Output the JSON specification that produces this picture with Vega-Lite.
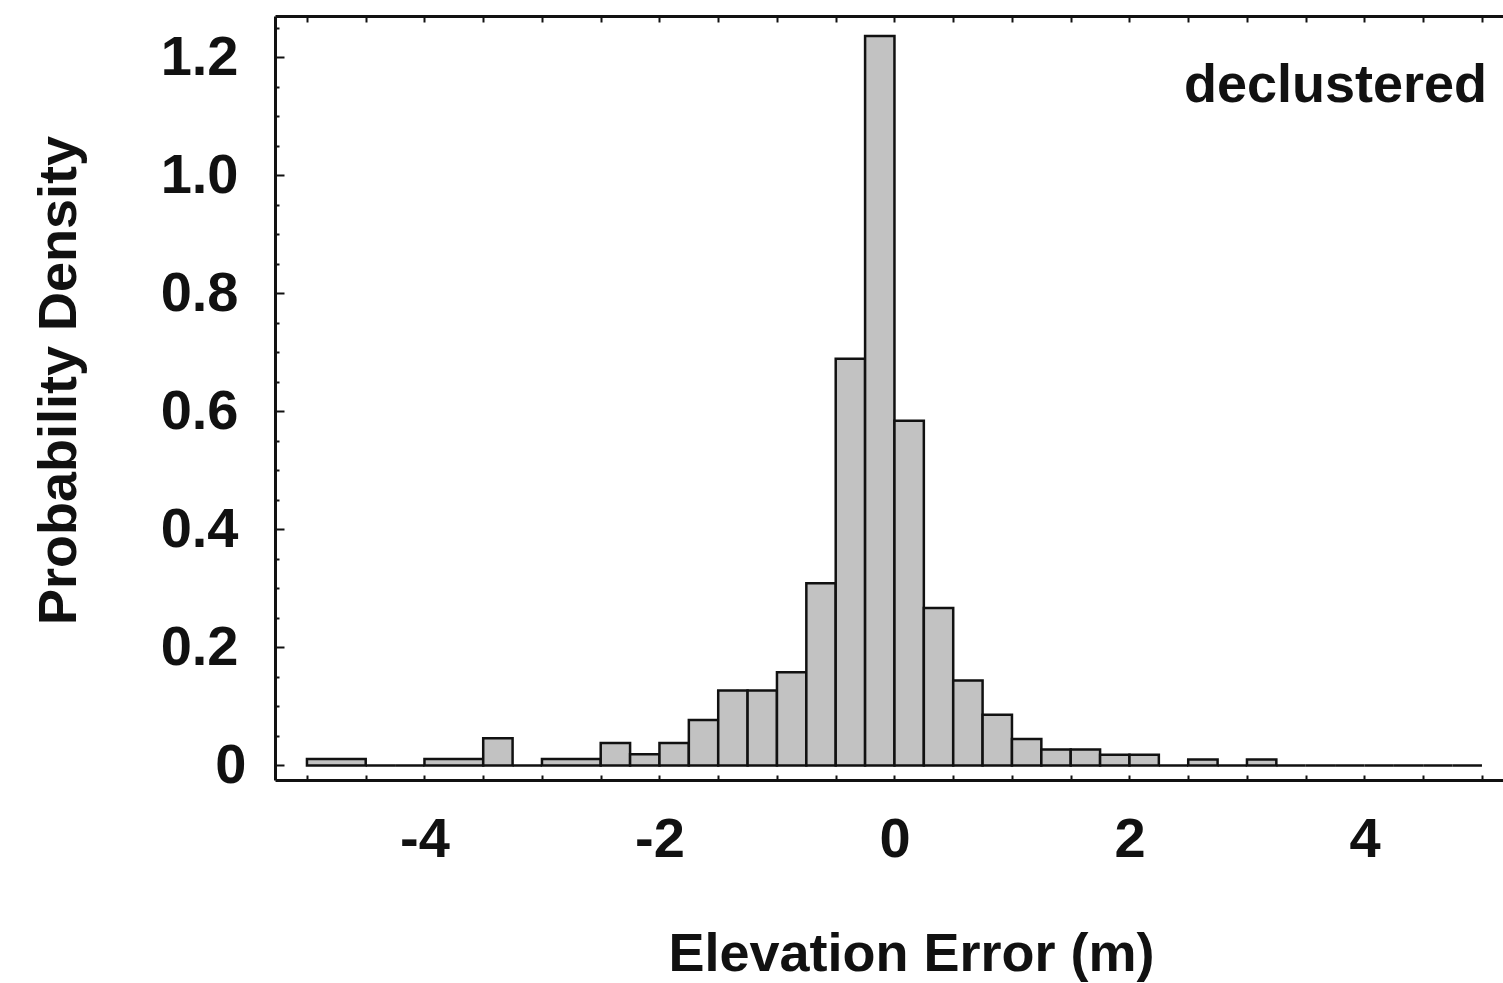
{
  "$schema": "https://vega.github.io/schema/vega-lite/v6.json",
  "width": 1228,
  "height": 764,
  "autosize": "none",
  "padding": {"left": 275, "top": 16, "right": 0, "bottom": 203},
  "background": "white",
  "config": {
    "view": {"stroke": null},
    "font": "Liberation Sans",
    "axis": {
      "labelFont": "Liberation Sans",
      "titleFont": "Liberation Sans",
      "labelFontWeight": "bold",
      "titleFontWeight": "bold",
      "labelColor": "#111",
      "titleColor": "#111",
      "domainColor": "#111",
      "tickColor": "#111",
      "domainWidth": 3,
      "tickWidth": 2,
      "grid": false
    }
  },
  "data": {
    "values": [
      {"bin_start": -5.0, "bin_end": -4.5, "density": 0.011},
      {"bin_start": -4.5, "bin_end": -4.25, "density": 0},
      {"bin_start": -4.25, "bin_end": -4.0, "density": 0},
      {"bin_start": -4.0, "bin_end": -3.5, "density": 0.011},
      {"bin_start": -3.5, "bin_end": -3.25, "density": 0.046},
      {"bin_start": -3.25, "bin_end": -3.0, "density": 0},
      {"bin_start": -3.0, "bin_end": -2.5, "density": 0.011},
      {"bin_start": -2.5, "bin_end": -2.25, "density": 0.038},
      {"bin_start": -2.25, "bin_end": -2.0, "density": 0.019},
      {"bin_start": -2.0, "bin_end": -1.75, "density": 0.038},
      {"bin_start": -1.75, "bin_end": -1.5, "density": 0.077},
      {"bin_start": -1.5, "bin_end": -1.25, "density": 0.127},
      {"bin_start": -1.25, "bin_end": -1.0, "density": 0.127},
      {"bin_start": -1.0, "bin_end": -0.75, "density": 0.158},
      {"bin_start": -0.75, "bin_end": -0.5, "density": 0.309},
      {"bin_start": -0.5, "bin_end": -0.25, "density": 0.689},
      {"bin_start": -0.25, "bin_end": 0.0, "density": 1.236},
      {"bin_start": 0.0, "bin_end": 0.25, "density": 0.584},
      {"bin_start": 0.25, "bin_end": 0.5, "density": 0.267},
      {"bin_start": 0.5, "bin_end": 0.75, "density": 0.144},
      {"bin_start": 0.75, "bin_end": 1.0, "density": 0.086},
      {"bin_start": 1.0, "bin_end": 1.25, "density": 0.045},
      {"bin_start": 1.25, "bin_end": 1.5, "density": 0.027},
      {"bin_start": 1.5, "bin_end": 1.75, "density": 0.027},
      {"bin_start": 1.75, "bin_end": 2.0, "density": 0.018},
      {"bin_start": 2.0, "bin_end": 2.25, "density": 0.018},
      {"bin_start": 2.25, "bin_end": 2.5, "density": 0},
      {"bin_start": 2.5, "bin_end": 2.75, "density": 0.01},
      {"bin_start": 2.75, "bin_end": 3.0, "density": 0},
      {"bin_start": 3.0, "bin_end": 3.25, "density": 0.01},
      {"bin_start": 3.25, "bin_end": 3.5, "density": 0},
      {"bin_start": 3.5, "bin_end": 3.75, "density": 0},
      {"bin_start": 3.75, "bin_end": 4.0, "density": 0},
      {"bin_start": 4.0, "bin_end": 4.25, "density": 0},
      {"bin_start": 4.25, "bin_end": 4.5, "density": 0},
      {"bin_start": 4.5, "bin_end": 4.75, "density": 0},
      {"bin_start": 4.75, "bin_end": 5.0, "density": 0}
    ]
  },
  "layer": [
    {
      "mark": {"type": "rect", "fill": "#c2c2c2", "stroke": "#111", "strokeWidth": 2.5},
      "encoding": {
        "x": {
          "field": "bin_start",
          "type": "quantitative",
          "scale": {"domain": [-5.272, 5.179], "nice": false, "zero": false},
          "axis": {
            "orient": "bottom",
            "values": [-5, -4.5, -4, -3.5, -3, -2.5, -2, -1.5, -1, -0.5, 0, 0.5, 1, 1.5, 2, 2.5, 3, 3.5, 4, 4.5, 5],
            "labelExpr": "datum.value % 2 == 0 ? (datum.value < 0 ? '-' + abs(datum.value) : '' + datum.value) : ''",
            "tickSize": -5,
            "labelPadding": 37,
            "labelFontSize": 56,
            "labelFlush": false,
            "labelOverlap": false,
            "title": "Elevation Error (m)",
            "titleFontSize": 54,
            "titleX": 636,
            "titleY": 190,
            "titleBaseline": "alphabetic",
            "titleAlign": "center"
          }
        },
        "x2": {"field": "bin_end"},
        "y": {
          "field": "density",
          "type": "quantitative",
          "scale": {"domain": [-0.0246, 1.27], "nice": false, "zero": false},
          "axis": {
            "orient": "left",
            "values": [0, 0.2, 0.4, 0.6, 0.8, 1.0, 1.2],
            "labelExpr": "datum.value == 0 ? '0' : format(datum.value, '.1f')",
            "ticks": false,
            "labelPadding": {"condition": {"test": "datum.value == 0", "value": 29}, "value": 37},
            "labelFontSize": 56,
            "labelBaseline": "middle",
            "labelFlush": false,
            "labelOverlap": false,
            "title": "Probability Density",
            "titleFontSize": 54,
            "titleAngle": -90,
            "titleX": -200,
            "titleY": 364,
            "titleBaseline": "alphabetic",
            "titleAlign": "center"
          }
        },
        "y2": {"datum": 0}
      }
    },
    {
      "data": {"values": [{"label": "declustered"}]},
      "mark": {"type": "text", "align": "right", "baseline": "alphabetic", "fontSize": 54, "fontWeight": "bold", "font": "Liberation Sans", "color": "#111"},
      "encoding": {
        "text": {"field": "label"},
        "x": {
          "datum": 5.043,
          "type": "quantitative",
          "axis": {
            "orient": "top",
            "values": [-5, -4.5, -4, -3.5, -3, -2.5, -2, -1.5, -1, -0.5, 0, 0.5, 1, 1.5, 2, 2.5, 3, 3.5, 4, 4.5, 5],
            "labels": false,
            "tickSize": -6,
            "title": null
          }
        },
        "y": {
          "datum": 1.125,
          "type": "quantitative",
          "axis": {
            "orient": "left",
            "values": [0, 0.05, 0.1, 0.15, 0.2, 0.25, 0.3, 0.35, 0.4, 0.45, 0.5, 0.55, 0.6, 0.65, 0.7, 0.75, 0.8, 0.85, 0.9, 0.95, 1.0, 1.05, 1.1, 1.15, 1.2, 1.25],
            "labels": false,
            "domain": false,
            "tickSize": {"condition": {"test": "abs(datum.value * 5 - round(datum.value * 5)) < 0.001", "value": -9}, "value": -4},
            "title": null
          }
        }
      }
    }
  ],
  "resolve": {"axis": {"x": "independent", "y": "independent"}}
}
